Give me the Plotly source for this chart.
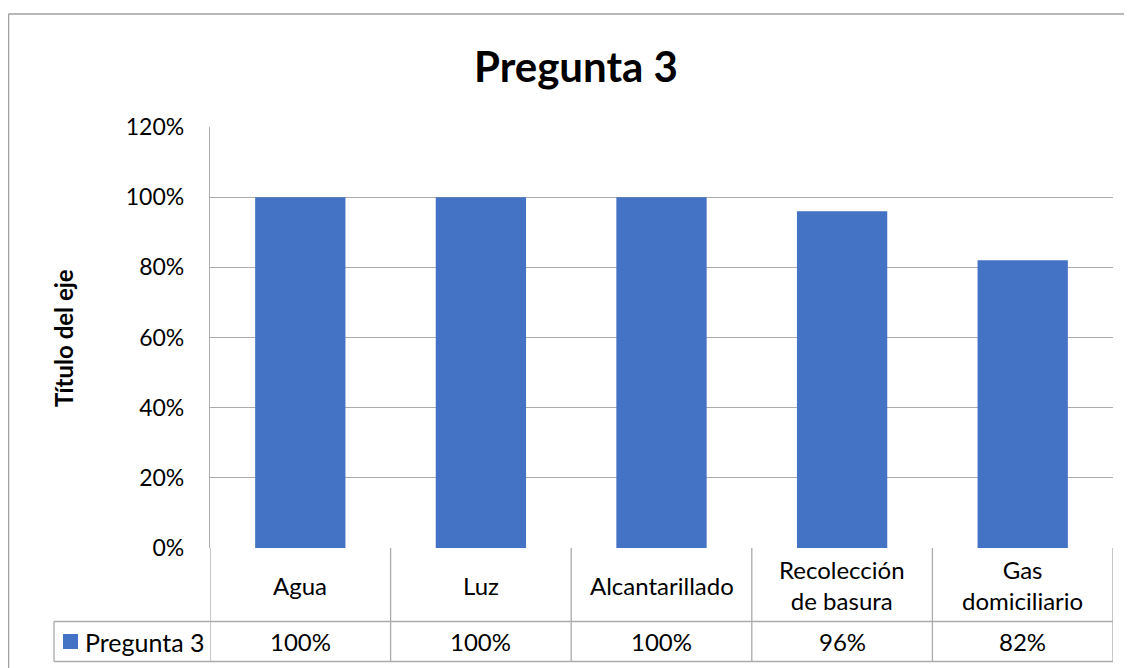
import plotly.graph_objects as go

categories = ["Agua", "Luz", "Alcantarillado", "Recolección<br>de basura", "Gas<br>domiciliario"]
values = [1.00, 1.00, 1.00, 0.96, 0.82]
series_name = "Pregunta 3"
y_ticks = [0, 0.2, 0.4, 0.6, 0.8, 1.0, 1.2]
y_tick_labels = ["0%", "20%", "40%", "60%", "80%", "100%", "120%"]

FONT = "Lato"
BLUE = "#4472C4"
GRID = "#ABABAB"
OFF = 8  # page body margin
W, H = 1132 - OFF, 668 - OFF
L, R, T, B = 210 - OFF, 19, 127 - OFF, 120
PW, PH = W - L - R, H - T - B

def px_x(p):  # screenshot x -> paper x
    return (p - OFF - L) / PW

def px_y(p):  # screenshot y -> paper y
    return (H - B - (p - OFF)) / PH

xs = list(range(len(categories)))
fig = go.Figure()
fig.add_trace(go.Bar(x=xs, y=values, marker=dict(color=BLUE, line=dict(width=0)),
                     name=series_name, showlegend=False))

LW = 1.3
shapes = []
row1 = px_y(621.5)
row2 = px_y(661.5)
CELL_L = 54
shapes.append(dict(type="line", xref="paper", yref="paper", x0=px_x(CELL_L), x1=1,
                   y0=row1, y1=row1, line=dict(color=GRID, width=LW)))
shapes.append(dict(type="line", xref="paper", yref="paper", x0=px_x(CELL_L), x1=1,
                   y0=row2, y1=row2, line=dict(color=GRID, width=LW)))
shapes.append(dict(type="line", xref="paper", yref="paper", x0=px_x(CELL_L), x1=px_x(CELL_L),
                   y0=row1, y1=row2, line=dict(color=GRID, width=LW)))
for i in range(len(categories) + 1):
    xv = i - 0.5
    shapes.append(dict(type="line", xref="x", yref="paper", x0=xv, x1=xv,
                       y0=0, y1=row2, line=dict(color=GRID, width=LW)))
# legend key
shapes.append(dict(type="rect", xref="paper", yref="paper", x0=px_x(63), x1=px_x(78),
                   y0=px_y(649), y1=px_y(634), fillcolor=BLUE, line=dict(width=0)))
# outer chart border
shapes.append(dict(type="line", xref="paper", yref="paper", x0=px_x(8.6), x1=px_x(1140),
                   y0=px_y(14), y1=px_y(14), line=dict(color="#A0A0A0", width=LW)))
shapes.append(dict(type="line", xref="paper", yref="paper", x0=px_x(8.6), x1=px_x(8.6),
                   y0=px_y(14), y1=px_y(680), line=dict(color="#A0A0A0", width=LW)))

TF = dict(family=FONT, size=24, color="#000")
annotations = []
for i, (c, v) in enumerate(zip(categories, values)):
    annotations.append(dict(x=i, y=px_y(585), xref="x", yref="paper", text=c,
                            showarrow=False, font=TF, align="center",
                            xanchor="center", yanchor="middle"))
    annotations.append(dict(x=i, y=px_y(641.5), xref="x", yref="paper",
                            text=f"{round(v * 100)}%", showarrow=False, font=TF,
                            xanchor="center", yanchor="middle"))
annotations.append(dict(x=px_x(83), y=px_y(641.5), xref="paper", yref="paper",
                        text=series_name, xanchor="left", yanchor="middle",
                        showarrow=False, font=dict(family=FONT, size=25, color="#000")))
annotations.append(dict(x=px_x(63), y=px_y(338), xref="paper", yref="paper",
                        text="<b>Título del eje</b>", textangle=-90, showarrow=False,
                        xanchor="center", yanchor="middle",
                        font=dict(family=FONT, size=24, color="#000")))

fig.update_layout(
    width=W, height=H,
    margin=dict(l=L, r=R, t=T, b=B),
    paper_bgcolor="white", plot_bgcolor="white",
    bargap=0.5,
    title=dict(text="<b>Pregunta 3</b>", x=(576 - OFF) / W, xref="container",
               xanchor="center", y=1 - (67 - OFF) / H, yref="container", yanchor="middle",
               font=dict(family=FONT, size=42, color="#000")),
    xaxis=dict(range=[-0.5, len(categories) - 0.5], showticklabels=False, showgrid=False,
               zeroline=False, showline=False, ticks=""),
    yaxis=dict(range=[0, 1.2], tickvals=y_ticks, ticktext=y_tick_labels,
               showgrid=True, gridcolor=GRID, gridwidth=LW, zeroline=False,
               showline=True, linecolor=GRID, linewidth=LW,
               ticks="", ticklabelstandoff=20,
               tickfont=dict(family=FONT, size=23, color="#000")),
    shapes=shapes, annotations=annotations,
)

fig.write_html("out.html")
